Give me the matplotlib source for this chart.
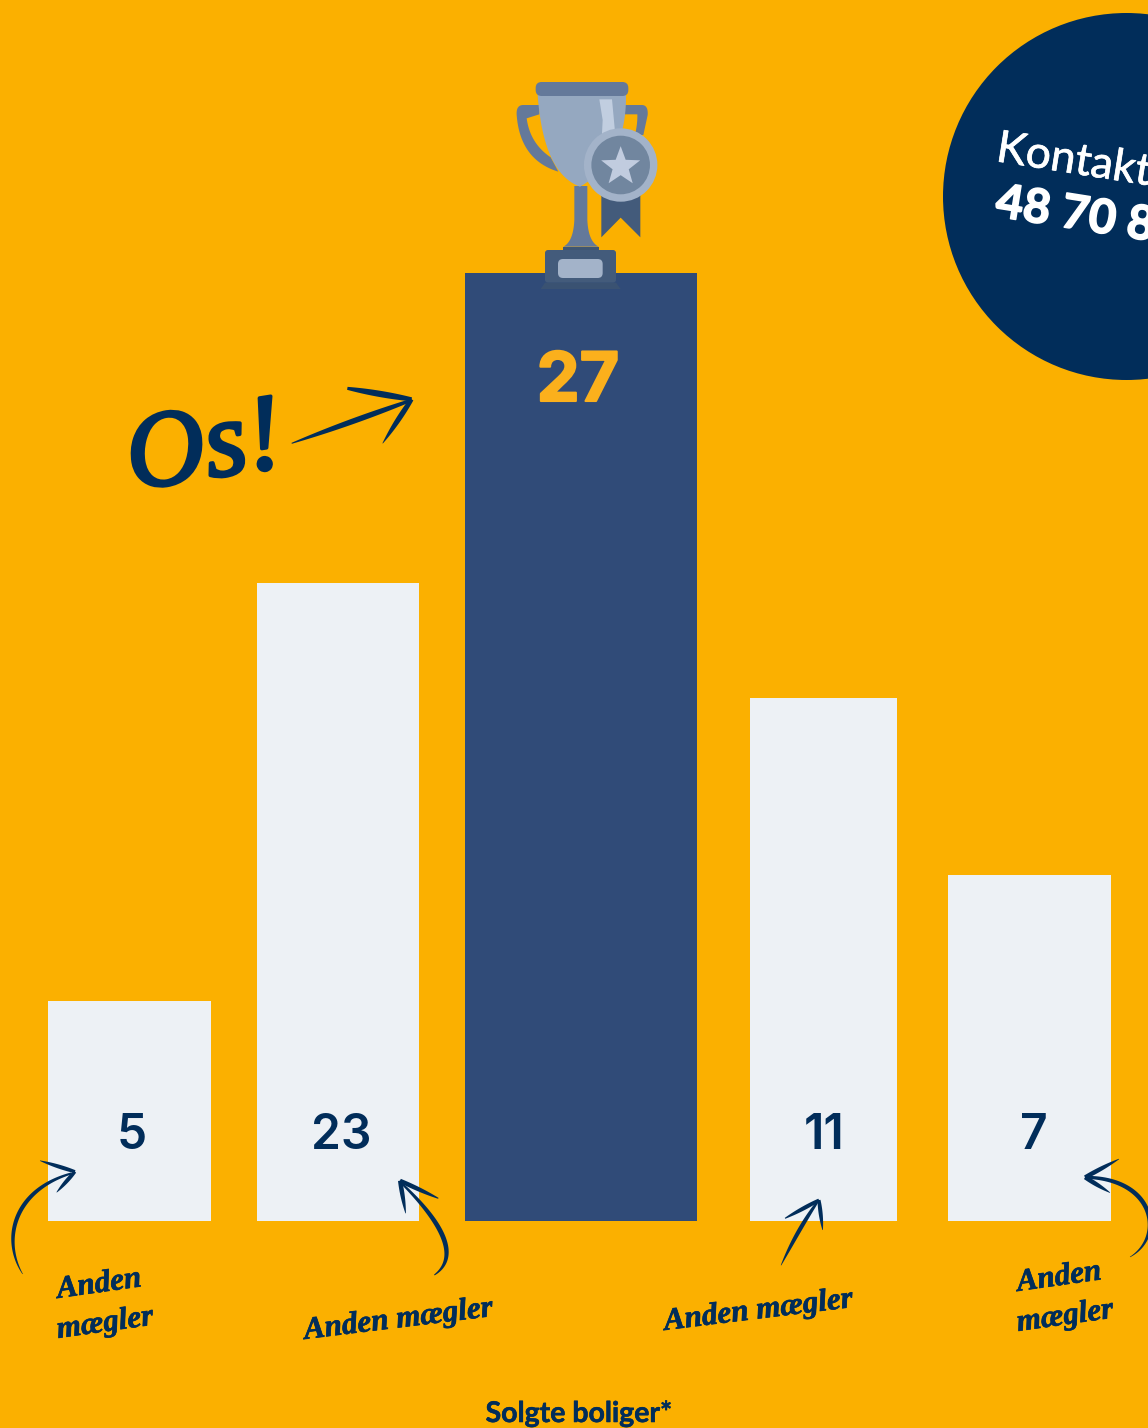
import matplotlib
matplotlib.use("Agg")
import matplotlib.pyplot as plt
import numpy as np
from matplotlib.patches import Circle, Polygon, FancyBboxPatch, Rectangle
import matplotlib.patheffects as pe

# chart values (bars in the picture are not to scale with the labels)
sold_labels = ["5", "23", "27", "11", "7"]
bar_heights = [220, 638, 948, 523, 346]
bar_lefts = [48, 257, 465, 750, 948]
bar_widths = [163, 162, 232, 147, 163]
label_x = [132, 341, 578, 824, 1034]

BG = "#FBB000"
NAVY = "#012D5A"
BLUE = "#304B78"
LIGHT = "#EDF1F5"

W, H = 1148, 1428
BASE = 1221
fig = plt.figure(figsize=(W / 100, H / 100), dpi=100, facecolor=BG)

# bars axes, y=0 sits on the bar baseline
ax = fig.add_axes([0, 0, 1, 1], facecolor="none")
ax.set_xlim(0, W)
ax.set_ylim(BASE - H, BASE)
ax.axis("off")
colors = [BLUE if s == "27" else LIGHT for s in sold_labels]
ax.bar(bar_lefts, bar_heights, bar_widths, align="edge", color=colors, linewidth=0)

# overlay in picture pixels for the drawn stuff
deco = fig.add_axes([0, 0, 1, 1], facecolor="none")
deco.set_xlim(0, W)
deco.set_ylim(H, 0)
deco.axis("off")

for s, x in zip(sold_labels, label_x):
    if s == "27":
        deco.text(x, 376, s, color="#FBB01C", fontsize=49, family="Inter", weight="bold",
                  ha="center", va="center_baseline",
                  path_effects=[pe.withStroke(linewidth=1.5, foreground="#FBB01C")])
    else:
        deco.text(x, 1131, s, color=NAVY, fontsize=34.5, family="Inter", weight="semibold",
                  ha="center", va="center_baseline")

deco.text(579, 1422, "Solgte boliger*", color=NAVY, fontsize=20.5, family="Lato", weight="bold",
          ha="center", va="baseline", path_effects=[pe.withStroke(linewidth=0.4, foreground=NAVY)])

# contact circle
deco.add_patch(Circle((1126.5, 196.5), 183.5, color=NAVY, lw=0))
deco.text(995, 161, "Kontakt", color="white", fontsize=32, family="Lato", rotation=-9,
          rotation_mode="anchor", ha="left", va="baseline",
          path_effects=[pe.withStroke(linewidth=0.5, foreground="white")])
deco.text(994, 216, "48 70 8", color="white", fontsize=34, family="Lato", weight="bold", rotation=-9,
          rotation_mode="anchor", ha="left", va="baseline",
          path_effects=[pe.withStroke(linewidth=1.2, foreground="white")])


def brush(p0, p1, p2, p3, w0, w1, wmid=None, color=NAVY):
    # tapered stroke along a cubic bezier
    t = np.linspace(0, 1, 60)[:, None]
    p0, p1, p2, p3 = [np.array(p, dtype=float) for p in (p0, p1, p2, p3)]
    pts = (1 - t) ** 3 * p0 + 3 * (1 - t) ** 2 * t * p1 + 3 * (1 - t) * t ** 2 * p2 + t ** 3 * p3
    d = np.gradient(pts, axis=0)
    n = np.c_[-d[:, 1], d[:, 0]] / np.linalg.norm(d, axis=1)[:, None]
    if wmid is None:
        wmid = (w0 + w1) / 2
    tt = t[:, 0]
    w = (1 - tt) ** 2 * w0 + 2 * (1 - tt) * tt * wmid + tt ** 2 * w1
    poly = np.r_[pts + n * w[:, None] / 2, (pts - n * w[:, None] / 2)[::-1]]
    deco.add_patch(Polygon(poly, closed=True, color=color, lw=0, zorder=5))


def line_brush(a, b, w0, w1, wmid=None):
    a, b = np.array(a, float), np.array(b, float)
    brush(a, a + (b - a) / 3, a + 2 * (b - a) / 3, b, w0, w1, wmid)


def z(ox, oy, X, Y):
    # zoom crop coords to picture coords
    return (ox + X / 3, oy + Y / 3)


# Os! arrow
o = (110, 360)
line_brush(z(*o, 545, 250), z(*o, 900, 122), 1, 3, 9)
line_brush(z(*o, 712, 85), z(*o, 905, 118), 3, 4, 9)
line_brush(z(*o, 818, 250), z(*o, 905, 118), 0.5, 4, 8)

# small arrows
o = (0, 1150)
brush(z(*o, 68, 372), z(*o, 5, 270), z(*o, 40, 120), z(*o, 215, 70), 0.5, 2, 7)
line_brush(z(*o, 120, 32), z(*o, 225, 65), 0.5, 3, 6)
line_brush(z(*o, 170, 127), z(*o, 225, 65), 0.5, 3, 6)
brush(z(*o, 1303, 375), z(*o, 1375, 325), z(*o, 1340, 230), z(*o, 1205, 100), 1, 2, 8)
line_brush(z(*o, 1315, 145), z(*o, 1200, 92), 1, 4, 6)
line_brush(z(*o, 1217, 190), z(*o, 1200, 92), 0.5, 4, 6)

o = (640, 1150)
brush(z(*o, 423, 346), z(*o, 455, 280), z(*o, 490, 215), z(*o, 535, 152), 0.5, 2, 7)
line_brush(z(*o, 435, 205), z(*o, 537, 150), 1, 3, 6)
line_brush(z(*o, 548, 240), z(*o, 537, 150), 0.5, 3, 6)
brush(z(*o, 1470, 321), z(*o, 1575, 260), z(*o, 1545, 85), z(*o, 1337, 82), 0.5, 3, 7)
line_brush(z(*o, 1437, 27), z(*o, 1335, 82), 0.5, 4, 6)
line_brush(z(*o, 1410, 128), z(*o, 1335, 82), 0.5, 4, 6)

# hand lettering
hand = dict(color=NAVY, family="Liberation Serif", style="italic", weight="bold",
            rotation_mode="anchor", ha="left", va="baseline")
thick = [pe.withStroke(linewidth=0.5, foreground=NAVY)]
size = 22.5
deco.text(58, 1298, "Anden", fontsize=size, rotation=8, path_effects=thick, **hand)
deco.text(58, 1338, "mægler", fontsize=size, rotation=8, path_effects=thick, **hand)
deco.text(305, 1339, "Anden mægler", fontsize=size, rotation=7, path_effects=thick, **hand)
deco.text(665, 1330, "Anden mægler", fontsize=size, rotation=7, path_effects=thick, **hand)
deco.text(1018, 1291, "Anden", fontsize=size, rotation=8, path_effects=thick, **hand)
deco.text(1018, 1331, "mægler", fontsize=size, rotation=8, path_effects=thick, **hand)
deco.text(132, 490, "Os!", fontsize=78, rotation=9, color=NAVY, family="Liberation Serif", style="italic",
          rotation_mode="anchor", ha="left", va="baseline",
          path_effects=[pe.withStroke(linewidth=2.5, foreground=NAVY)])

# trophy
o = (480, 60)


def zp(pts):
    return [z(*o, X, Y) for X, Y in pts]


def rbox(X0, Y0, X1, Y1, r, color, zorder):
    (x0, y0), (x1, y1) = z(*o, X0, Y0), z(*o, X1, Y1)
    deco.add_patch(FancyBboxPatch((x0 + r, y0 + r), x1 - x0 - 2 * r, y1 - y0 - 2 * r,
                                  boxstyle="round,pad=%g,rounding_size=%g" % (r, r),
                                  color=color, lw=0, zorder=zorder))


def curve(p0, p1, p2, n=25):
    t = np.linspace(0, 1, n)[:, None]
    return (1 - t) ** 2 * np.array(p0, float) + 2 * (1 - t) * t * np.array(p1, float) + t ** 2 * np.array(p2, float)


STEEL = "#64799A"
DARK = "#435B7B"
# handles
left_handle = np.r_[[(178, 135), (130, 135)], curve((130, 135), (108, 135), (110, 165)),
                    curve((110, 165), (120, 300), (235, 335)), [(212, 292)],
                    curve((212, 292), (150, 250), (140, 175)), [(178, 163)]]
right_handle = np.r_[[(435, 135), (485, 135)], curve((485, 135), (505, 135), (503, 165)),
                     [(490, 225), (465, 225)], curve((465, 225), (473, 190), (472, 163)), [(435, 163)]]
deco.add_patch(Polygon(zp(left_handle), color=STEEL, lw=0, zorder=6))
deco.add_patch(Polygon(zp(right_handle), color=STEEL, lw=0, zorder=6))
# stem
stem = np.r_[[(283, 378), (322, 378), (322, 480)], curve((322, 480), (325, 545), (356, 560)),
             [(250, 560)], curve((250, 560), (280, 545), (283, 480))]
deco.add_patch(Polygon(zp(stem), color=STEEL, lw=0, zorder=6))
# ribbon
deco.add_patch(Polygon(zp([(364, 400), (481, 400), (481, 532), (422, 473), (364, 532)]), color=DARK, lw=0, zorder=6))
# cup
cup = np.r_[[(173, 105), (438, 105)], curve((438, 105), (440, 300), (300, 380)),
            curve((300, 380), (190, 340), (173, 105))]
deco.add_patch(Polygon(zp(cup), color="#95A8C0", lw=0, zorder=7))
deco.add_patch(Polygon(zp([(358, 118), (396, 118), (405, 215), (365, 240), (368, 180)]), color="#C1CEE0", lw=0, zorder=8))
rbox(167, 66, 445, 108, 6, STEEL, 8)
# base
rbox(195, 570, 408, 668, 3, DARK, 6)
rbox(234, 597, 368, 654, 5, "#A3B3C9", 7)
deco.add_patch(Rectangle(z(*o, 250, 560), 106 / 3, 10 / 3, color="#3F5673", lw=0, zorder=7))
deco.add_patch(Polygon(zp([(195, 668), (408, 668), (422, 687), (182, 687)]), color="#3A5272", lw=0, zorder=6))
# medal
deco.add_patch(Circle(z(*o, 422, 315), 36.7, color="#A3B3C9", lw=0, zorder=9))
deco.add_patch(Circle(z(*o, 422, 315), 29.3, color="#71869F", lw=0, zorder=10))
ang = np.deg2rad(np.arange(0, 360, 36) - 90)
rad = np.where(np.arange(10) % 2 == 0, 20.5, 8.5)
cx, cy = z(*o, 422, 320)
deco.add_patch(Polygon(np.c_[cx + rad * np.cos(ang), cy + rad * np.sin(ang)], color="#C1CCDF", lw=0, zorder=11))

fig.savefig("out.png", dpi=100, facecolor=BG)
